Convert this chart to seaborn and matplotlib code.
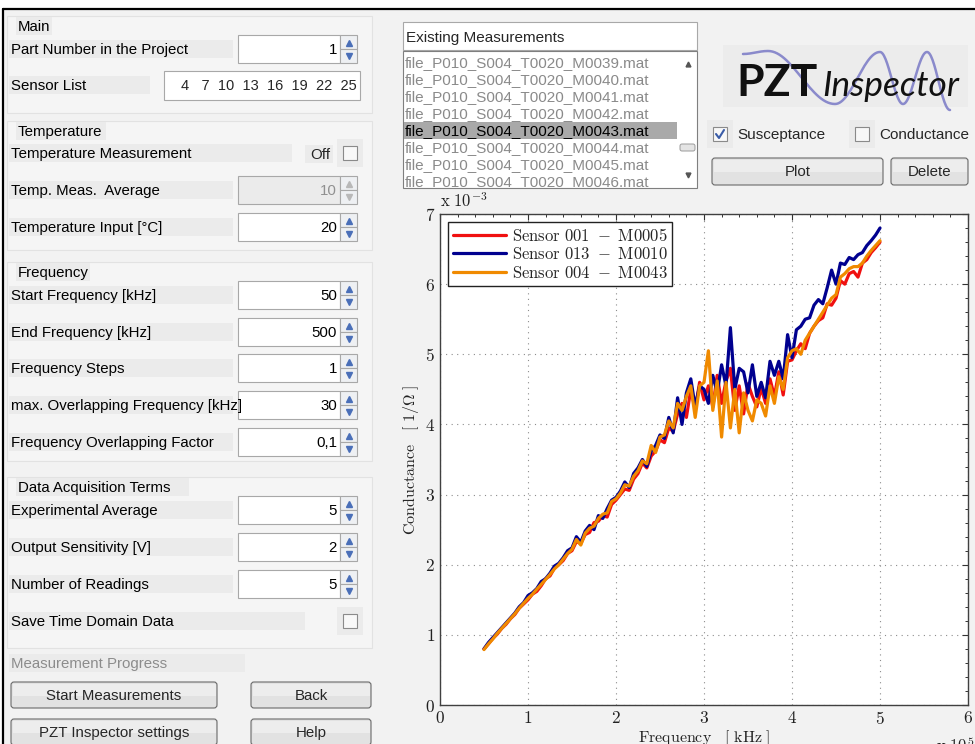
import matplotlib
matplotlib.use("Agg")
import matplotlib.pyplot as plt
from matplotlib.patches import Rectangle, FancyBboxPatch
from matplotlib.lines import Line2D
from matplotlib.ticker import MultipleLocator, AutoMinorLocator, FuncFormatter
import numpy as np
import pandas as pd
import seaborn as sns

# ---- chart data (frequency in kHz, conductance in 1e-3 S) ----
freq_khz = [50, 55, 60, 65, 70, 75, 80, 85, 90, 95,
            100, 105, 110, 115, 120, 125, 130, 135, 140, 145,
            150, 155, 160, 165, 170, 175, 180, 185, 190, 195,
            200, 205, 210, 215, 220, 225, 230, 235, 240, 245,
            250, 255, 260, 265, 270, 275, 280, 285, 290, 295,
            300, 305, 310, 315, 320, 325, 330, 335, 340, 345,
            350, 355, 360, 365, 370, 375, 380, 385, 390, 395,
            400, 405, 410, 415, 420, 425, 430, 435, 440, 445,
            450, 455, 460, 465, 470, 475, 480, 485, 490, 495,
            500]

sensor_001 = [0.80, 0.87, 0.95, 1.01, 1.09, 1.15, 1.23, 1.29, 1.38, 1.44,
              1.50, 1.58, 1.62, 1.70, 1.80, 1.84, 1.95, 2.00, 2.06, 2.16,
              2.20, 2.33, 2.30, 2.43, 2.46, 2.60, 2.62, 2.70, 2.68, 2.86,
              2.92, 3.00, 3.08, 3.06, 3.22, 3.30, 3.45, 3.38, 3.55, 3.62,
              3.78, 3.74, 3.95, 3.90, 4.15, 4.30, 4.10, 4.50, 4.22, 4.60,
              4.35, 4.55, 4.25, 4.70, 4.30, 4.62, 4.80, 4.20, 4.55, 4.15,
              4.58, 4.40, 4.25, 4.52, 4.30, 4.65, 4.40, 4.75, 4.42, 4.90,
              4.92, 5.05, 5.15, 5.08, 5.30, 5.40, 5.48, 5.52, 5.72, 5.70,
              5.80, 6.05, 6.00, 6.15, 6.18, 6.10, 6.30, 6.35, 6.45, 6.52,
              6.60]

sensor_013 = [0.80, 0.89, 0.96, 1.03, 1.10, 1.17, 1.24, 1.31, 1.40, 1.46,
              1.56, 1.60, 1.66, 1.76, 1.80, 1.88, 1.98, 2.02, 2.10, 2.20,
              2.24, 2.40, 2.32, 2.48, 2.56, 2.50, 2.70, 2.66, 2.80, 2.92,
              2.96, 3.05, 3.18, 3.10, 3.30, 3.38, 3.50, 3.40, 3.62, 3.70,
              3.85, 3.80, 4.10, 3.88, 4.38, 4.00, 4.45, 4.65, 4.25, 4.55,
              4.50, 4.30, 4.70, 4.45, 4.85, 4.55, 5.38, 4.50, 4.80, 4.75,
              4.45, 4.85, 4.40, 4.60, 4.38, 4.90, 4.70, 4.90, 4.65, 5.28,
              4.95, 5.35, 5.40, 5.50, 5.52, 5.70, 5.78, 5.72, 5.95, 6.20,
              6.00, 6.30, 6.28, 6.38, 6.35, 6.42, 6.45, 6.55, 6.62, 6.70,
              6.80]

sensor_004 = [0.79, 0.87, 0.94, 1.02, 1.09, 1.16, 1.23, 1.30, 1.38, 1.45,
              1.52, 1.58, 1.65, 1.72, 1.79, 1.86, 1.94, 2.00, 2.08, 2.16,
              2.22, 2.36, 2.28, 2.45, 2.52, 2.55, 2.66, 2.72, 2.74, 2.90,
              2.94, 3.02, 3.14, 3.12, 3.26, 3.34, 3.48, 3.44, 3.70, 3.60,
              3.82, 3.85, 4.05, 3.95, 4.30, 4.20, 4.40, 4.55, 4.10, 4.55,
              4.60, 5.05, 4.20, 4.62, 3.82, 4.60, 3.95, 4.50, 3.88, 4.45,
              4.20, 4.05, 4.35, 4.30, 4.12, 4.55, 4.30, 4.68, 4.50, 4.95,
              5.05, 5.08, 5.00, 5.20, 5.30, 5.40, 5.50, 5.60, 5.70, 5.80,
              5.85, 6.10, 6.15, 6.22, 6.25, 6.25, 6.30, 6.40, 6.48, 6.55,
              6.62]

series_names = ["Sensor 001 - M0005", "Sensor 013 - M0010", "Sensor 004 - M0043"]
series_colors = ["#f01010", "#00008f", "#f08a00"]

# ---- GUI content ----
spinner_rows = [
    ("Part Number in the Project", 35, "1", False),
    ("Temp. Meas.  Average", 176, "10", True),
    ("Temperature Input [°C]", 213, "20", False),
    ("Start Frequency [kHz]", 281, "50", False),
    ("End Frequency [kHz]", 318, "500", False),
    ("Frequency Steps", 354, "1", False),
    ("max. Overlapping Frequency [kHz]", 391, "30", False),
    ("Frequency Overlapping Factor", 428, "0,1", False),
    ("Experimental Average", 496, "5", False),
    ("Output Sensitivity [V]", 533, "2", False),
    ("Number of Readings", 570, "5", False),
]
group_titles = [("Main", 26, 16, 113), ("Temperature", 131, 121, 250),
                ("Frequency", 272, 262, 461), ("Data Acquisition Terms", 487, 477, 648)]
sensor_list = "4   7  10  13  16  19  22  25"
measurement_files = ["file_P010_S004_T0020_M0039.mat", "file_P010_S004_T0020_M0040.mat",
                     "file_P010_S004_T0020_M0041.mat", "file_P010_S004_T0020_M0042.mat",
                     "file_P010_S004_T0020_M0043.mat", "file_P010_S004_T0020_M0044.mat",
                     "file_P010_S004_T0020_M0045.mat", "file_P010_S004_T0020_M0046.mat"]
selected_file = 4

sns.set_theme(style="white")
plt.rcParams["font.family"] = ["Liberation Sans", "DejaVu Sans"]
plt.rcParams["mathtext.fontset"] = "cm"

fig = plt.figure(figsize=(9.75, 7.44), dpi=100)
fig.patch.set_facecolor("white")
gui = fig.add_axes([0, 0, 1, 1])
gui.set_xlim(0, 975)
gui.set_ylim(744, 0)
gui.axis("off")


def rect(x, y, w, h, fc, ec="none", lw=0.8, z=1):
    p = Rectangle((x, y), w, h, facecolor=fc, edgecolor=ec, linewidth=lw, zorder=z)
    gui.add_patch(p)
    return p


def label(x, y, s, bg_w, color="black", size=10.8):
    rect(x - 2, y - 9, bg_w, 18, "#ebebeb", z=2)
    gui.text(x, y + 1, s, ha="left", va="center", fontsize=size, color=color, zorder=3)


def spinner(y0, val, disabled=False):
    h = 28
    rect(238, y0, 102, h, "#ebebeb" if disabled else "white", ec="#a8a8a8", z=2)
    rect(340, y0, 17, h / 2, "#eef0f3", ec="#a8a8a8", z=2)
    rect(340, y0 + h / 2, 17, h / 2, "#eef0f3", ec="#a8a8a8", z=2)
    tc = "#b8b8b8" if disabled else "#4a6fb8"
    gui.plot([348.5], [y0 + h / 4 + 0.5], marker="^", ms=4, color=tc, zorder=3)
    gui.plot([348.5], [y0 + 3 * h / 4 - 0.5], marker="v", ms=4, color=tc, zorder=3)
    gui.text(337, y0 + h / 2 + 1, val, ha="right", va="center", fontsize=10.8,
             color="#909090" if disabled else "black", zorder=3)


def checkbox(x, y, checked=False):
    rect(x - 6, y - 7, 26, 28, "#ebebeb", z=2)
    rect(x, y, 14, 14, "#f8f8f8", ec="#8a8a8a", z=3)
    if checked:
        gui.plot([x + 3, x + 6, x + 11], [y + 7, y + 11, y + 3], color="#3a5ca8", lw=1.5, zorder=4)


def button(x, y, w, h, s):
    p = FancyBboxPatch((x, y), w, h, boxstyle="round,pad=0,rounding_size=3",
                       facecolor="#e2e2e2", edgecolor="#6a6a6a", linewidth=0.8, zorder=2)
    gui.add_patch(p)
    rect(x + 1.5, y + 1.5, w - 3, h / 2 - 1, "#ededed", z=2)
    gui.text(x + w / 2, y + h / 2 + 1, s, ha="center", va="center", fontsize=10.8, zorder=3)


# window background and border
rect(3, 9, 972, 735, "#f2f2f2", z=0)
gui.plot([3, 975], [9, 9], color="black", lw=1.6, zorder=5)
gui.plot([3, 3], [9, 744], color="black", lw=1.6, zorder=5)

# left panels
for title, ty, top, bot in group_titles:
    rect(7, top, 365, bot - top, "#f5f5f5", ec="#e2e2e2", z=1)
    label(18, ty, title, len(title) * 7.6 + 6)

for name, y0, val, disabled in spinner_rows:
    label(11, y0 + 14, name, 224)
    spinner(y0, val, disabled)

label(11, 85, "Sensor List", 141)
rect(164, 71, 196, 29, "white", ec="#a8a8a8", z=2)
gui.text(357, 86, sensor_list, ha="right", va="center", fontsize=10.5, zorder=3)

label(11, 153, "Temperature Measurement", 283)
rect(305, 145, 28, 18, "#ebebeb", z=2)
gui.text(330, 155, "Off", ha="right", va="center", fontsize=10.8, zorder=3)
checkbox(343, 146)

label(11, 621, "Save Time Domain Data", 296)
checkbox(343, 614)

label(11, 663, "Measurement Progress", 236, color="#8c8c8c")
button(11, 682, 206, 26, "Start Measurements")
button(251, 682, 120, 26, "Back")
button(11, 719, 206, 26, "PZT Inspector settings")
button(251, 719, 120, 26, "Help")

# measurement list
rect(403, 22, 294, 28, "white", ec="#a8a8a8", z=2)
gui.text(406, 38, "Existing Measurements", ha="left", va="center", fontsize=11, zorder=3)
list_box = rect(403, 51, 294, 137, "white", ec="#7f7f7f", z=2)
rect(404, 122, 273, 17, "#a9a9a9", z=2)
for i, fname in enumerate(measurement_files):
    t = gui.text(405, 63 + 17 * i, fname, ha="left", va="center", fontsize=11,
                 color="black" if i == selected_file else "#8a8a8a", zorder=3, clip_on=True)
    t.set_clip_path(list_box)
gui.plot([688], [64], marker="^", ms=3.5, color="#555555", zorder=3)
gui.plot([688], [175], marker="v", ms=3.5, color="#555555", zorder=3)
gui.add_patch(FancyBboxPatch((680, 144), 15, 7, boxstyle="round,pad=0,rounding_size=2",
                             facecolor="#e4e4e4", edgecolor="#9a9a9a", linewidth=0.7, zorder=3))

# logo
rect(723, 45, 245, 62, "#ececec", z=1)
wave_x = [743, 768, 835, 880, 903, 927, 950]
wave_y = [54, 51, 104, 52, 104, 52, 110]
wx, wy = [], []
for k in range(len(wave_x) - 1):
    t = np.linspace(0, 1, 30)
    wx.extend(wave_x[k] + (wave_x[k + 1] - wave_x[k]) * t)
    wy.extend(wave_y[k] + (wave_y[k + 1] - wave_y[k]) * (1 - np.cos(np.pi * t)) / 2)
gui.plot(wx, wy, color="#7f7fc8", lw=1.8, alpha=0.9, zorder=3,
         clip_path=rect(723, 45, 245, 62, "none", z=0))
gui.text(736, 96, "PZT", ha="left", va="baseline", fontsize=32, fontweight="bold",
         family="Lato", color="#111111", zorder=4)
gui.text(822, 96, "Inspector", ha="left", va="baseline", fontsize=25.5, style="italic",
         family="Lato", color="#111111", zorder=4)

checkbox(713, 127, checked=True)
gui.text(737, 135, "Susceptance", ha="left", va="center", fontsize=11, zorder=3)
checkbox(855, 127)
gui.text(879, 135, "Conductance", ha="left", va="center", fontsize=11, zorder=3)
button(712, 158, 171, 27, "Plot")
button(891, 158, 77, 27, "Delete")

# ---- chart ----
df = pd.concat([
    pd.DataFrame({"freq": np.array(freq_khz) / 100.0, "cond": vals, "sensor": name})
    for name, vals in zip(series_names, [sensor_001, sensor_013, sensor_004])
])

ax = fig.add_axes([440 / 975, 39 / 744, 528 / 975, 491 / 744])
ax.set_facecolor("white")
sns.lineplot(data=df, x="freq", y="cond", hue="sensor", hue_order=series_names,
             palette=dict(zip(series_names, series_colors)), sort=False,
             estimator=None, linewidth=2.3, legend=False, ax=ax)

ax.set_xlim(0, 6)
ax.set_ylim(0, 7)
ax.xaxis.set_major_locator(MultipleLocator(1))
ax.yaxis.set_major_locator(MultipleLocator(1))
ax.xaxis.set_minor_locator(AutoMinorLocator(5))
ax.yaxis.set_minor_locator(AutoMinorLocator(5))
ax.xaxis.set_major_formatter(FuncFormatter(lambda v, p: f"${v:g}$"))
ax.yaxis.set_major_formatter(FuncFormatter(lambda v, p: f"${v:g}$"))
ax.tick_params(which="both", direction="in", top=True, right=True, color="#333333",
               labelsize=12.5, labelcolor="#222222")
ax.tick_params(which="major", length=4.5, width=0.8)
ax.tick_params(which="minor", length=2.5, width=0.7)
ax.grid(True, which="major", linestyle=(0, (1, 4)), color="#8c8c8c", linewidth=0.8)
for sp in ax.spines.values():
    sp.set_color("#404040")
    sp.set_linewidth(1.0)

ax.set_xlabel(r"$\mathrm{Frequency}\quad[\ \mathrm{kHz}\ ]$", fontsize=11.5, color="#222222", labelpad=1)
ax.set_ylabel(r"$\mathrm{Conductance}\quad[\ \mathbf{1/\Omega}\ ]$", fontsize=11.5, color="#222222", labelpad=3)

handles = [Line2D([], [], color=c, lw=2.3) for c in series_colors]
labels = [r"$\mathrm{" + n.replace(" ", r"\ ") + "}$" for n in series_names]
leg = ax.legend(handles, labels, loc="upper left", fontsize=12, frameon=True, fancybox=False,
                edgecolor="#222222", framealpha=1, handlelength=3.2, handletextpad=0.35,
                labelspacing=0.15, borderpad=0.3, borderaxespad=0.45)
leg.get_frame().set_linewidth(1.0)

gui.text(440, 207, r"$\mathrm{x}\ 10^{-3}$", ha="left", va="baseline", fontsize=12, color="#222222")
gui.text(936, 752, r"$\mathrm{x}\ 10^{5}$", ha="left", va="baseline", fontsize=12, color="#222222")

fig.savefig("out.png", dpi=100, facecolor=fig.get_facecolor())
